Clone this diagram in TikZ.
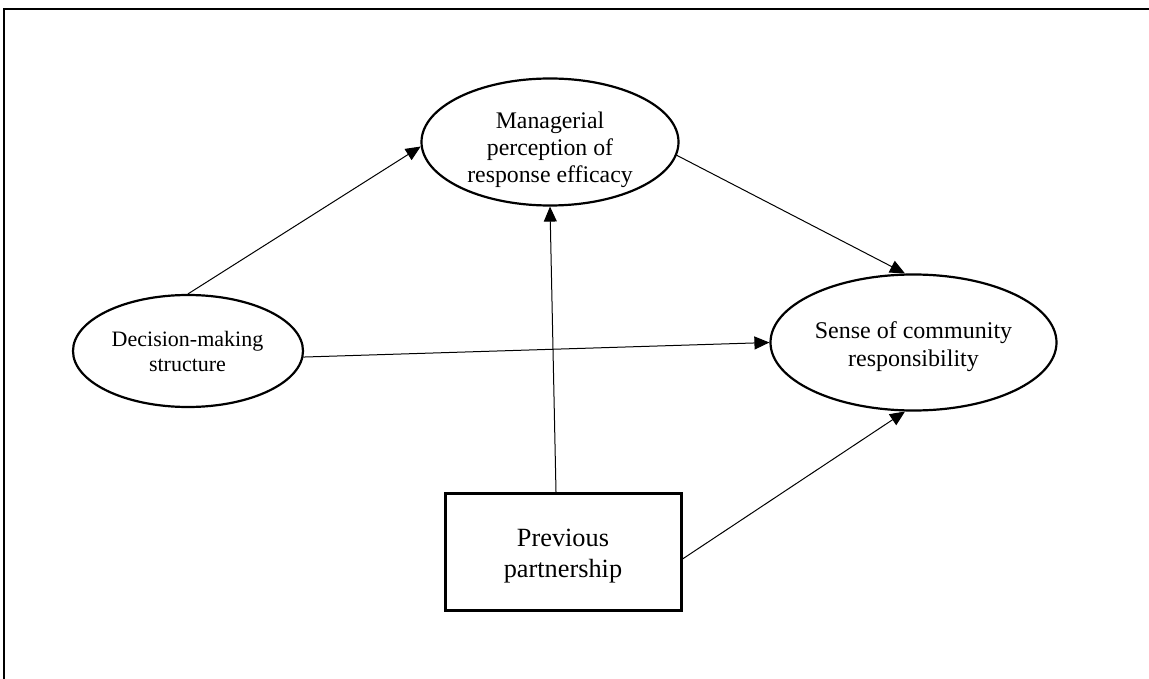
\documentclass[tikz,border=0pt]{standalone}
\usepackage{fontspec}
\setmainfont{Liberation Serif}
\usetikzlibrary{arrows.meta,shapes.geometric}
\begin{document}
\begin{tikzpicture}[x=1pt,y=-1pt,
  ell/.style={ellipse, draw, line width=2.2pt, inner sep=0pt},
  lbl/.style={align=center, inner sep=0pt},
  conn/.style={line width=1pt, -{Triangle[length=15pt,width=13pt]}},
  framebar/.style={line width=2pt}]
\useasboundingbox (0,0) rectangle (1149,679);
% frame (top and left edges only)
\coordinate (ftr) at (1149,9);
\coordinate (ftl) at (4,9);
\coordinate (fbl) at (4,679);
\draw[framebar] (ftr) -- (ftl) -- (fbl);
% nodes
\node[ell, minimum width=257pt, minimum height=127pt] (man) at (550,142) {};
\node[lbl, font=\fontsize{23.8}{27}\selectfont] (mantxt) at (550,149.5) {Managerial\\perception of\\response efficacy};
\node[ell, minimum width=286pt, minimum height=136pt] (sen) at (913.5,342.5) {};
\node[lbl, font=\fontsize{24}{28}\selectfont] (sentxt) at (913.5,346.4) {Sense of community\\responsibility};
\node[ell, minimum width=230pt, minimum height=112pt] (dec) at (188,351) {};
\node[lbl, font=\fontsize{22}{25}\selectfont] (dectxt) at (187.5,351.7) {Decision-making\\structure};
\node[draw, line width=3pt, minimum width=236pt, minimum height=117pt, inner sep=0pt] (box) at (563,552) {};
\node[lbl, font=\fontsize{26.3}{31}\selectfont] (boxtxt) at (563,556.3) {Previous\\partnership};
% connectors
\draw[conn] (dec.north) -- (man.182);
\draw[conn] (man.-6) -- (sen.97);
\draw[conn] (dec.-3) -- (sen.west);
\draw[conn] ([xshift=-7pt]box.north) -- (man.south);
\draw[conn] ([yshift=-7pt]box.east) -- (sen.263);
\end{tikzpicture}
\end{document}
